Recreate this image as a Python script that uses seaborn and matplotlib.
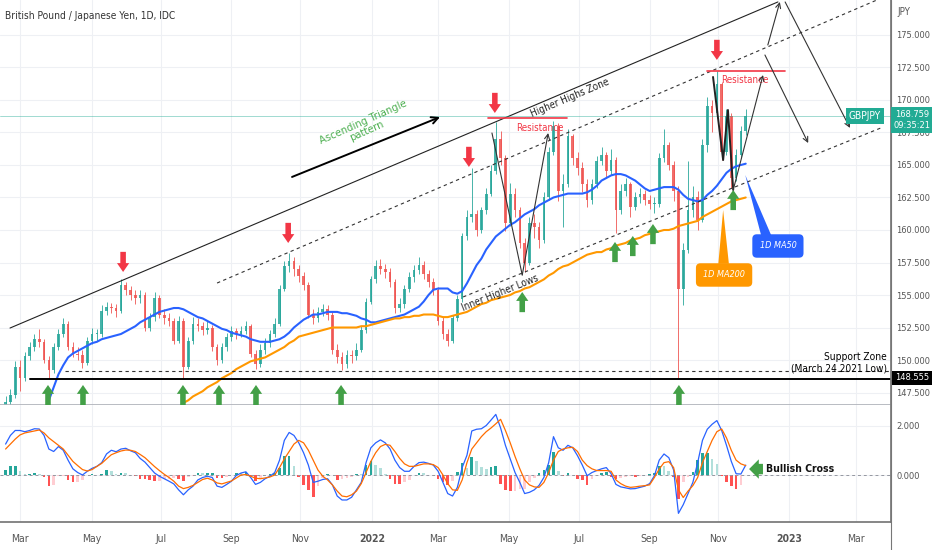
import numpy as np
import pandas as pd
import matplotlib
matplotlib.use("Agg")
import matplotlib.pyplot as plt
import seaborn as sns
from matplotlib.patches import Polygon
from matplotlib.lines import Line2D

# GBPJPY, one bar per 3 trading days starting 2021-02-15
start = "2021-02-15"
first_open = 146.5
closes = [
    146.8, 147.3, 149.5, 148.6, 150.3, 151.0, 151.6, 151.4, 150.0, 149.2,
    151.0, 152.0, 152.8, 151.0, 150.5, 150.4, 149.8, 151.5, 152.0, 152.0,
    153.8, 154.1, 154.0, 153.8, 155.8, 155.4, 155.0, 154.8, 155.0, 152.5,
    153.3, 154.8, 153.5, 153.2, 153.0, 151.5, 153.0, 149.5, 151.5, 152.8,
    152.6, 152.3, 152.5, 151.0, 150.0, 151.0, 151.8, 152.2, 152.0, 152.2,
    152.6, 150.5, 149.7, 150.8, 151.3, 152.0, 152.8, 155.5, 157.2, 157.6,
    157.0, 156.5, 155.8, 153.5, 153.2, 153.7, 153.9, 153.5, 150.8, 150.2,
    149.7, 150.4, 150.3, 150.8, 152.3, 154.5, 156.2, 157.2, 157.0, 156.8,
    156.0, 154.0, 154.3, 155.5, 156.4, 156.9, 157.3, 156.6, 156.0, 155.4,
    153.0, 152.0, 151.5, 153.2, 154.7, 159.5, 161.0, 161.2, 160.0, 161.5,
    162.8, 164.5, 167.0, 165.5, 160.5, 162.8, 161.5, 159.0, 157.5, 160.5,
    160.2, 159.2, 162.5, 166.0, 168.0, 163.0, 163.5, 167.2, 165.5, 164.8,
    163.5, 162.3, 163.5, 165.3, 165.8, 164.5, 165.4, 161.5, 163.0, 163.5,
    161.8, 162.5, 162.8, 162.3, 162.0, 162.0, 165.5, 166.5, 165.0, 163.0,
    155.5, 158.5, 161.5, 162.5, 160.8, 166.5, 169.5, 169.0, 171.2, 166.0,
    168.8, 164.0, 165.8, 167.6, 168.76,
]
highs = [
    147.2, 147.8, 149.9, 150.0, 150.6, 151.4, 152.0, 152.4, 151.6, 150.3,
    151.3, 152.4, 153.2, 153.0, 151.4, 151.0, 150.8, 151.8, 152.5, 152.4,
    154.2, 154.5, 154.4, 154.3, 156.2, 156.0, 155.7, 155.4, 155.4, 155.2,
    153.6, 155.2, 155.0, 153.9, 153.6, 153.2, 153.4, 153.2, 151.8, 153.3,
    153.2, 152.9, 153.0, 152.7, 151.2, 151.3, 152.1, 152.6, 152.5, 152.6,
    153.0, 152.8, 150.8, 151.2, 151.7, 152.3, 153.2, 155.8, 157.6, 158.2,
    157.9, 157.3, 156.8, 156.0, 153.9, 154.1, 154.3, 154.2, 153.7, 151.2,
    150.6, 150.8, 150.8, 151.3, 152.6, 154.8, 156.5, 157.7, 157.8, 157.4,
    157.1, 156.2, 154.8, 155.8, 156.8, 157.3, 157.9, 157.6, 156.9, 156.3,
    155.6, 153.3, 152.4, 153.5, 155.0, 159.8, 161.5, 164.8, 161.5, 161.8,
    163.2, 165.0, 168.3, 167.6, 165.8, 163.6, 163.2, 161.8, 159.4, 161.0,
    161.2, 160.6, 162.9, 166.4, 168.4, 168.2, 164.3, 167.8, 167.4, 166.0,
    165.2, 163.9, 163.9, 165.7, 166.4, 166.0, 166.2, 165.6, 163.5, 164.0,
    163.7, 162.9, 163.2, 163.1, 162.7, 162.5, 165.9, 167.8, 166.8, 165.3,
    163.4, 159.0, 165.3, 163.4, 163.0, 167.0, 170.2, 170.0, 172.2, 171.4,
    169.3, 169.0, 166.2, 168.0, 169.3,
]
lows = [
    146.0, 146.5, 147.1, 147.6, 148.4, 150.0, 150.7, 151.0, 149.8, 148.55,
    149.0, 150.8, 151.8, 150.8, 150.2, 150.0, 149.4, 149.6, 151.2, 151.5,
    151.8, 153.5, 153.6, 153.3, 153.6, 155.0, 154.6, 154.3, 154.4, 152.2,
    152.2, 153.0, 153.2, 152.8, 152.6, 151.2, 151.3, 148.6, 149.3, 151.2,
    152.2, 151.9, 152.0, 150.7, 149.6, 149.8, 150.7, 151.5, 151.6, 151.8,
    152.0, 150.2, 149.3, 149.5, 150.5, 151.0, 151.8, 152.6, 155.3, 156.8,
    156.5, 156.0, 155.4, 153.2, 152.8, 152.9, 153.4, 153.1, 150.5, 149.8,
    149.2, 149.4, 149.8, 150.0, 150.6, 152.1, 154.3, 155.9, 156.6, 156.3,
    155.6, 153.6, 153.7, 154.0, 155.2, 156.0, 156.6, 156.2, 155.6, 155.0,
    152.7, 151.6, 151.1, 151.3, 153.0, 154.5, 159.2, 160.6, 159.5, 159.8,
    161.2, 162.6, 164.3, 165.0, 159.9, 160.3, 161.0, 158.6, 156.8, 157.3,
    159.4, 158.6, 159.0, 162.3, 165.8, 162.2, 160.2, 163.3, 165.0, 164.2,
    162.9, 161.8, 162.0, 163.2, 165.0, 164.0, 164.2, 159.8, 161.2, 162.6,
    161.0, 161.5, 162.1, 161.9, 161.6, 161.3, 161.8, 165.2, 164.6, 162.2,
    148.6, 154.2, 158.2, 161.0, 160.0, 160.6, 166.0, 167.5, 168.6, 165.4,
    165.8, 163.2, 163.8, 165.5, 167.3,
]
ma50 = [np.nan] * 9 + [
    146.9, 147.9, 148.9, 149.6, 150.2, 150.5, 150.7, 150.9, 151.1, 151.3,
    151.4, 151.6, 151.7, 151.8, 151.9, 152.0, 152.2, 152.4, 152.6, 152.9,
    153.1, 153.3, 153.5, 153.7, 153.8, 153.9, 154.0, 154.0, 153.9, 153.7,
    153.5, 153.3, 153.2, 153.0, 152.8, 152.6, 152.4, 152.3, 152.1, 152.0,
    151.9, 151.8, 151.6, 151.5, 151.4, 151.4, 151.4, 151.5, 151.6, 151.8,
    152.1, 152.5, 152.8, 153.1, 153.3, 153.5, 153.5, 153.6, 153.7, 153.7,
    153.7, 153.6, 153.6, 153.5, 153.4, 153.2, 153.1, 152.9, 152.9, 153.0,
    153.1, 153.2, 153.3, 153.4, 153.5, 153.7, 153.9, 154.1, 154.5, 155.0,
    155.4, 155.5, 155.5, 155.5, 155.2, 155.1, 155.3, 155.9, 156.6, 157.3,
    157.8, 158.5, 159.0, 159.5, 159.8, 160.1, 160.4, 160.6, 160.9, 161.2,
    161.4, 161.6, 161.9, 162.1, 162.3, 162.5, 162.6, 162.7, 162.8, 162.8,
    162.8, 162.8, 162.9, 163.1, 163.4, 163.8, 164.0, 164.2, 164.3, 164.3,
    164.2, 164.0, 163.8, 163.5, 163.2, 163.0, 163.1, 163.2, 163.3, 163.3,
    163.3, 163.1, 162.7, 162.4, 162.3, 162.2, 162.3, 162.7, 163.0, 163.4,
    163.9, 164.4, 164.7, 164.9, 165.0, 165.1,
]
ma200 = [np.nan] * 37 + [
    146.7, 146.9, 147.2, 147.4, 147.6, 147.9, 148.1, 148.3, 148.6, 148.8,
    149.0, 149.3, 149.5, 149.7, 149.9, 150.0, 150.1, 150.2, 150.4, 150.6,
    150.8, 151.0, 151.3, 151.5, 151.8, 151.9, 152.0, 152.1, 152.2, 152.3,
    152.4, 152.5, 152.5, 152.5, 152.5, 152.5, 152.5, 152.6, 152.6, 152.7,
    152.8, 152.9, 153.0, 153.1, 153.2, 153.2, 153.3, 153.3, 153.4, 153.4,
    153.5, 153.5, 153.5, 153.4, 153.3, 153.3, 153.4, 153.5, 153.6, 153.7,
    153.9, 154.1, 154.3, 154.4, 154.6, 154.7, 154.8, 154.9, 155.0, 155.2,
    155.3, 155.5, 155.6, 155.8, 156.0, 156.2, 156.5, 156.7, 157.0, 157.2,
    157.3, 157.5, 157.7, 157.9, 158.1, 158.2, 158.3, 158.3, 158.5, 158.6,
    158.8, 158.9, 159.0, 159.2, 159.3, 159.4, 159.6, 159.7, 159.8, 159.9,
    160.0, 160.0, 160.1, 160.3, 160.4, 160.5, 160.6, 160.7, 161.0, 161.2,
    161.4, 161.6, 161.8, 162.0, 162.2, 162.3, 162.4, 162.5,
]
macd = [
    1.25, 1.6, 1.8, 1.8, 1.75, 1.8, 1.87, 1.86, 1.6, 1.05,
    0.95, 1.15, 1.0, 0.6, 0.25, 0.1, 0.0, 0.15, 0.27, 0.35,
    0.5, 0.85, 1.0, 0.94, 1.05, 1.08, 0.98, 0.9, 0.67, 0.52,
    0.3, 0.08, -0.05, -0.15, -0.25, -0.36, -0.6, -0.8, -0.6, -0.45,
    -0.2, -0.1, -0.05, -0.1, -0.45, -0.5, -0.38, -0.25, -0.02, 0.08,
    0.13, -0.1, -0.38, -0.3, -0.15, -0.05, 0.1, 0.6, 1.4, 1.72,
    1.6, 1.3, 0.9, 0.4, -0.3, -0.25, -0.18, -0.15, -0.4, -0.85,
    -1.01, -1.01, -0.9, -0.6, -0.3, 0.5, 1.1, 1.3, 1.42, 1.3,
    1.05, 0.6, 0.3, 0.15, 0.15, 0.35, 0.5, 0.52, 0.47, 0.4,
    0.15, -0.3, -0.75, -0.85, -0.5, 0.3, 0.8, 1.78, 1.85, 1.87,
    2.0, 2.22, 2.45, 1.9, 1.2, 0.65, 0.1, -0.3, -0.75, -0.7,
    -0.6, -0.42, -0.1, 0.5, 1.55, 1.1, 1.0, 1.2, 1.1, 0.78,
    0.4, -0.03, 0.1, 0.18, 0.25, 0.3, 0.05, -0.38, -0.48, -0.52,
    -0.56, -0.55, -0.5, -0.45, -0.35, -0.03, 0.6, 0.85, 0.7, 0.2,
    -1.55, -1.2, -0.75, -0.3, 0.5, 1.4, 1.85, 2.05, 2.2, 1.8,
    1.2, 0.55, 0.05, 0.04, 0.4,
]
signal = [
    1.05, 1.25, 1.45, 1.62, 1.7, 1.74, 1.78, 1.82, 1.7, 1.5,
    1.35, 1.2, 1.05, 0.8, 0.55, 0.38, 0.22, 0.16, 0.22, 0.35,
    0.47, 0.65, 0.82, 0.9, 0.97, 1.01, 1.0, 0.95, 0.83, 0.7,
    0.52, 0.34, 0.18, 0.03, -0.1, -0.25, -0.45, -0.55, -0.5, -0.42,
    -0.3, -0.18, -0.13, -0.2, -0.32, -0.36, -0.3, -0.24, -0.12, 0.0,
    0.02, -0.05, -0.13, -0.15, -0.12, -0.08, 0.0, 0.3, 0.65, 0.95,
    1.25, 1.4, 1.3, 1.0, 0.6, 0.2, -0.05, -0.2, -0.4, -0.65,
    -0.85, -0.88, -0.8, -0.65, -0.35, 0.1, 0.55, 0.9, 1.15, 1.24,
    1.2, 0.95, 0.67, 0.45, 0.35, 0.35, 0.4, 0.45, 0.45, 0.42,
    0.3, 0.0, -0.35, -0.6, -0.62, -0.2, 0.5, 1.05, 1.3, 1.55,
    1.75, 1.9, 2.07, 2.25, 1.8, 1.3, 0.75, 0.25, -0.2, -0.4,
    -0.48, -0.5, -0.3, 0.1, 0.6, 0.95, 1.05, 1.1, 1.12, 0.95,
    0.6, 0.38, 0.25, 0.18, 0.18, 0.18, 0.15, -0.2, -0.35, -0.45,
    -0.5, -0.48, -0.45, -0.43, -0.4, -0.1, 0.24, 0.5, 0.54, 0.3,
    -0.6, -0.91, -0.65, -0.43, -0.1, 0.5, 0.95, 1.4, 1.75, 1.86,
    1.5, 1.0, 0.6, 0.45, 0.38,
]
price_ticks = [147.5, 150.0, 152.5, 155.0, 157.5, 160.0, 162.5, 165.0, 167.5, 170.0, 172.5, 175.0]
support_low = 148.555
last_price = 168.759

df = pd.DataFrame({"close": closes, "high": highs, "low": lows,
                   "ma50": ma50, "ma200": ma200, "macd": macd, "signal": signal})
df["open"] = [first_open] + closes[:-1]
df["bar"] = np.arange(len(df))
df["hist"] = df["macd"] - df["signal"]

UP, DOWN = "#26a69a", "#ef5350"
GREEN, RED = "#43a047", "#f23645"

sns.set_theme(style="white")
plt.rcParams["font.family"] = ["DejaVu Sans"]
plt.rcParams["font.stretch"] = "condensed"

fig = plt.figure(figsize=(9.32, 5.5), dpi=100)
ax = fig.add_axes([0, 145 / 550, 891 / 932, 405 / 550])
ax2 = fig.add_axes([0, 28 / 550, 891 / 932, 117 / 550])
xlim = (-1.165, 184.23)

# month ticks (bars are 3 trading days wide)
tick_months = pd.date_range("2021-03-01", "2023-03-01", freq="2MS")
tick_pos, tick_lab = [], []
for d in tick_months:
    day = np.busday_offset(np.datetime64(d.date()), 0, roll="forward")
    tick_pos.append((np.busday_count(np.datetime64(start), day) - 1) / 3)
    tick_lab.append(str(d.year) if d.month == 1 else d.strftime("%b"))

# candles
col = np.where(df["close"] >= df["open"], UP, DOWN)
ax.vlines(df["bar"], df["low"], df["high"], colors=col, lw=0.7, alpha=0.85)
body = (df["close"] - df["open"]).where((df["close"] - df["open"]).abs() > 0.08, 0.08)
ax.bar(df["bar"], body, bottom=df["open"], width=0.55, color=col, lw=0, alpha=0.85)

sns.lineplot(data=df.dropna(subset=["ma50"]), x="bar", y="ma50", color="#2962ff", lw=1.5, ax=ax)
sns.lineplot(data=df.dropna(subset=["ma200"]), x="bar", y="ma200", color="#ff9800", lw=1.5, ax=ax)

ax.set_xlim(xlim)
ax.set_ylim(146.54, 177.69)
ax.set_xticks(tick_pos)
ax.set_yticks(price_ticks)
ax.set_yticklabels([f"{v:.3f}" for v in price_ticks])
ax.yaxis.tick_right()
ax.tick_params(axis="y", length=0, pad=4, labelsize=6.7, labelcolor="#555555")
ax.tick_params(axis="x", length=0, labelbottom=False)
ax.grid(True, color="#eef0f4", lw=0.8)
ax.set_xlabel("")
ax.set_ylabel("")
for s in ["top", "left"]:
    ax.spines[s].set_visible(False)
ax.spines["right"].set_color("#777777")
ax.spines["bottom"].set_color("#b0b3ba")

ax.text(0.006, 1 - 16 / 405, "British Pound / Japanese Yen, 1D, IDC", transform=ax.transAxes,
        fontsize=7.3, color="#333333", va="center")

# trend lines
ax.plot([0.92, 160.7], [152.46, 177.54], color="#222222", lw=0.8)
ax.plot([44.0, 181.3], [155.92, 177.69], color="#333333", lw=0.8, ls=(0, (3, 3)))
ax.plot([95.2, 182.6], [154.85, 167.92], color="#333333", lw=0.8, ls=(0, (3, 3)))
ax.plot([5.1, 184.3], [support_low, support_low], color="black", lw=1.4)
ax.plot([12.4, 184.3], [149.15, 149.15], color="#333333", lw=0.8, ls=(0, (3, 3)))
ax.axhline(last_price, color="#22ab94", lw=0.6, alpha=0.5)

ax.text(183.4, 150.23, "Support Zone", ha="right", va="center", fontsize=7.3, color="black")
ax.text(183.4, 149.38, "(March.24.2021 Low)", ha="right", va="center", fontsize=7.3, color="black")

ax.annotate("", xy=(90.4, 168.69), xytext=(59.6, 164.08),
            arrowprops=dict(arrowstyle="->", color="black", lw=1.4, shrinkA=0, shrinkB=0, mutation_scale=12))
ax.text(74.8, 167.92, "Ascending Triangle\npattern", color="#4caf50", fontsize=8, ha="center",
        va="center", rotation=24, rotation_mode="anchor", linespacing=0.95)
ax.text(117.4, 170.15, "Higher Highs Zone", fontsize=7.2, ha="center", va="center",
        rotation=23, rotation_mode="anchor", color="#222222")
ax.text(102.9, 155.15, "Inner Higher Lows", fontsize=7.2, ha="center", va="center",
        rotation=22, rotation_mode="anchor", color="#222222")

# resistance
ax.plot([100.4, 116.8], [168.62, 168.62], color=RED, lw=1.2)
ax.text(111.2, 167.85, "Resistance", color=RED, fontsize=7, ha="center", va="center")
ax.plot([145.9, 162.2], [172.23, 172.23], color=RED, lw=1.2)
ax.text(153.8, 171.54, "Resistance", color=RED, fontsize=7, ha="center", va="center")


def block_arrow(a, x, y, dx, dy, color, scale=8, style="simple,head_length=0.8,head_width=1.1,tail_width=0.5"):
    a.annotate("", xy=(x, y), xytext=(dx, dy), textcoords="offset points",
               arrowprops=dict(arrowstyle=style, fc=color, ec="none", shrinkA=0, shrinkB=0,
                               mutation_scale=scale))


for k, p in [(24.45, 156.77), (58.8, 159.0), (96.4, 164.85), (101.8, 169.0), (148.0, 173.08)]:
    block_arrow(ax, k, p, 0, 14.5, RED)
for k, p in [(8.82, 148.08), (16.1, 148.08), (36.9, 148.08), (44.4, 148.08), (52.1, 148.08),
             (69.8, 148.08), (107.5, 155.23), (126.8, 159.08), (130.5, 159.54), (134.7, 160.46),
             (140.1, 148.08), (151.4, 163.08)]:
    block_arrow(ax, k, p, 0, -14.5, GREEN)

# projected path
thin = dict(arrowstyle="->", color="#333333", lw=0.8, shrinkA=0, shrinkB=0, mutation_scale=9)
ax.plot([101.2, 107.5], [167.46, 156.54], color="#333333", lw=0.8)
ax.annotate("", xy=(112.9, 167.46), xytext=(107.5, 156.54), arrowprops=thin)
ax.plot([147.2, 149.3, 150.3, 151.4], [171.77, 165.38, 169.23, 163.08], color="#222222", lw=1.4)
ax.annotate("", xy=(157.6, 171.92), xytext=(151.4, 163.08), arrowprops=thin)
ax.annotate("", xy=(161.1, 177.54), xytext=(158.6, 174.23), arrowprops=thin)
ax.annotate("", xy=(175.7, 167.85), xytext=(162.2, 177.54), arrowprops=thin)
ax.annotate("", xy=(167.0, 166.69), xytext=(158.0, 173.46), arrowprops=thin)

# callouts
ax.add_patch(Polygon([(153.9, 164.23), (157.2, 159.6), (159.3, 159.6)], closed=True,
                     fc="#2962ff", ec="none"))
ax.text(160.7, 158.77, "1D MA50", color="white", fontsize=6.5, style="italic", ha="center",
        va="center", bbox=dict(boxstyle="round,pad=0.8,rounding_size=0.5", fc="#2962ff", ec="none"))
ax.add_patch(Polygon([(149.3, 161.54), (148.3, 157.4), (150.5, 157.4)], closed=True,
                     fc="#ff9800", ec="none"))
ax.text(149.5, 156.54, "1D MA200", color="white", fontsize=6.5, style="italic", ha="center",
        va="center", bbox=dict(boxstyle="round,pad=0.8,rounding_size=0.5", fc="#ff9800", ec="none"))

ax.text(178.8, last_price, "GBPJPY", color="white", fontsize=7.3, ha="center", va="center",
        bbox=dict(boxstyle="square,pad=0.3", fc="#22ab94", ec="none"))

# MACD panel
h = df["hist"].to_numpy()
prev = np.r_[h[0], h[:-1]]
hcol = np.where(h >= 0, np.where(h >= prev, "#26a69a", "#b2dfdb"),
                np.where(h < prev, "#ff5252", "#ffcdd2"))
ax2.bar(df["bar"], h, width=0.55, color=hcol, lw=0)
ax2.axhline(0, color="#9598a1", lw=0.7, ls=(0, (3, 3)))
sns.lineplot(data=df, x="bar", y="macd", color="#2962ff", lw=0.9, ax=ax2)
sns.lineplot(data=df, x="bar", y="signal", color="#ff6d00", lw=0.9, ax=ax2)
ax2.set_xlim(xlim)
ax2.set_ylim(-1.90, 2.83)
ax2.set_xticks(tick_pos)
ax2.set_xticklabels(tick_lab)
for lab in ax2.get_xticklabels():
    if lab.get_text().isdigit():
        lab.set_fontweight("bold")
        lab.set_color("#333333")
ax2.set_yticks([0, 2])
ax2.set_yticklabels(["0.000", "2.000"])
ax2.yaxis.tick_right()
ax2.tick_params(axis="y", length=0, pad=4, labelsize=6.7, labelcolor="#555555")
ax2.tick_params(axis="x", length=0, pad=9, labelsize=7.5, labelcolor="#555555")
ax2.grid(True, color="#eef0f4", lw=0.8)
ax2.set_xlabel("")
ax2.set_ylabel("")
for s in ["top", "left"]:
    ax2.spines[s].set_visible(False)
ax2.spines["right"].set_color("#777777")
ax2.spines["bottom"].set_color("#777777")

block_arrow(ax2, 154.7, 0.24, 10, 0, GREEN, scale=10,
            style="simple,head_length=0.7,head_width=1.4,tail_width=0.75")
ax2.text(158.3, 0.24, "Bullish Cross", fontsize=7.5, fontweight="bold", va="center", color="#111111")

# right-hand price scale extras
fig.add_artist(Line2D([891 / 932, 891 / 932], [0, 1], color="#777777", lw=0.8))
fig.text(897 / 932, 1 - 12 / 550, "JPY", fontsize=7, color="#555555", va="center")
fig.text(912 / 932, 1 - 120 / 550, "168.759\n09:35:21", fontsize=6.7, color="white", ha="center",
         va="center", linespacing=1.3,
         bbox=dict(boxstyle="square,pad=0.3", fc="#22ab94", ec="none"))
fig.text(912 / 932, 1 - 378 / 550, f"{support_low:.3f}", fontsize=6.7, color="white", ha="center",
         va="center", bbox=dict(boxstyle="square,pad=0.3", fc="black", ec="none"))

fig.savefig("out.png", dpi=100, facecolor="white")
